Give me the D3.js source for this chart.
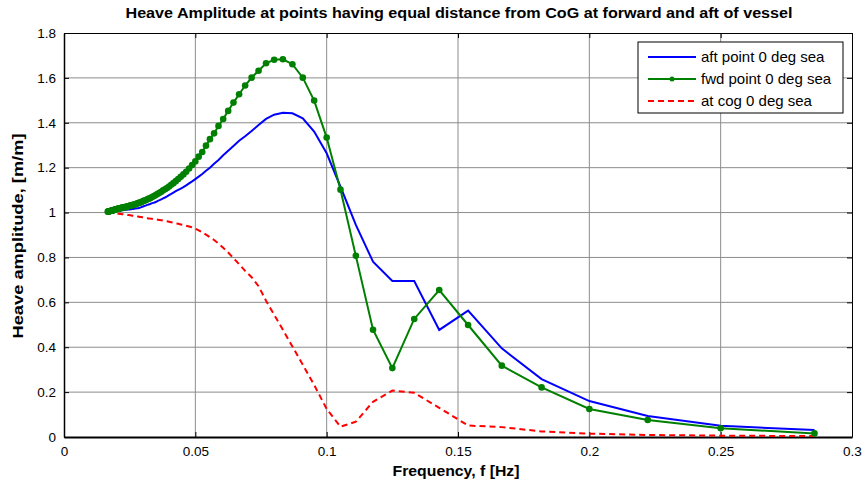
<!DOCTYPE html>
<html>
<head>
<meta charset="utf-8">
<script src="https://cdn.jsdelivr.net/npm/d3@7"></script>
<style>
  body { margin: 0; background: #fff; }
  text { font-family: "Liberation Sans", Arial, sans-serif; }
</style>
</head>
<body>
<div id="chart"></div>
<script>
// wave periods [s]; frequency = 1 / period
var periods = [60, 59.5, 59, 58.5, 58, 57.5, 57, 56.5, 56, 55.5, 55, 54.5, 54, 53.5, 53, 52.5, 52, 51.5, 51, 50.5,
               50, 49.5, 49, 48.5, 48, 47.5, 47, 46.5, 46, 45.5, 45, 44.5, 44, 43.5, 43, 42.5, 42, 41.5, 41, 40.5,
               40, 39.5, 39, 38.5, 38, 37.5, 37, 36.5, 36, 35.5, 35, 34.5, 34, 33.5, 33, 32.5, 32, 31.5, 31, 30.5,
               30, 29.5, 29, 28.5, 28, 27.5, 27, 26.5, 26, 25.5, 25, 24.5, 24, 23.5, 23, 22.5, 22, 21.5, 21, 20.5,
               20, 19.5, 19, 18.5, 18, 17.5, 17, 16.5, 16, 15.5, 15, 14.5, 14, 13.5, 13, 12.5, 12, 11.5, 11, 10.5,
               10, 9.5, 9, 8.5, 8, 7.5, 7, 6.5, 6, 5.5, 5, 4.5, 4, 3.5];

var aftPoint = [1.002, 1.002, 1.002, 1.002, 1.002, 1.003, 1.003, 1.003, 1.003, 1.003, 1.003, 1.004, 1.004, 1.004, 1.005, 1.005, 1.005, 1.006, 1.006, 1.006,
                1.006, 1.007, 1.007, 1.007, 1.008, 1.008, 1.008, 1.009, 1.009, 1.010, 1.010, 1.010, 1.011, 1.011, 1.012, 1.012, 1.013, 1.013, 1.014, 1.014,
                1.014, 1.015, 1.015, 1.016, 1.016, 1.017, 1.018, 1.018, 1.019, 1.019, 1.020, 1.022, 1.024, 1.026, 1.028, 1.030, 1.032, 1.034, 1.036, 1.038,
                1.041, 1.043, 1.045, 1.048, 1.052, 1.055, 1.059, 1.063, 1.067, 1.072, 1.078, 1.083, 1.089, 1.095, 1.101, 1.107, 1.113, 1.121, 1.130, 1.139,
                1.149, 1.160, 1.172, 1.186, 1.200, 1.217, 1.234, 1.255, 1.275, 1.297, 1.320, 1.340, 1.363, 1.390, 1.417, 1.436, 1.445, 1.442, 1.420, 1.361,
                1.264, 1.115, 0.945, 0.781, 0.695, 0.695, 0.477, 0.563, 0.395, 0.258, 0.160, 0.094, 0.050, 0.031];

var fwdPoint = [1.004, 1.005, 1.005, 1.006, 1.006, 1.006, 1.007, 1.007, 1.008, 1.008, 1.009, 1.009, 1.009, 1.010, 1.011, 1.011, 1.012, 1.013, 1.014, 1.015,
                1.016, 1.016, 1.017, 1.017, 1.018, 1.018, 1.019, 1.020, 1.020, 1.021, 1.022, 1.022, 1.023, 1.024, 1.024, 1.025, 1.026, 1.027, 1.028, 1.029,
                1.030, 1.031, 1.032, 1.033, 1.034, 1.035, 1.037, 1.038, 1.040, 1.042, 1.043, 1.045, 1.047, 1.049, 1.052, 1.054, 1.056, 1.059, 1.062, 1.064,
                1.068, 1.071, 1.075, 1.079, 1.084, 1.088, 1.093, 1.099, 1.104, 1.109, 1.116, 1.124, 1.131, 1.140, 1.149, 1.159, 1.170, 1.182, 1.196, 1.212,
                1.228, 1.249, 1.270, 1.298, 1.327, 1.353, 1.386, 1.417, 1.453, 1.490, 1.527, 1.566, 1.601, 1.632, 1.665, 1.681, 1.683, 1.661, 1.601, 1.499,
                1.334, 1.102, 0.807, 0.478, 0.307, 0.526, 0.655, 0.499, 0.318, 0.221, 0.125, 0.076, 0.039, 0.016];

var atCog = [1.000, 1.000, 1.000, 1.000, 0.999, 0.999, 0.999, 0.999, 0.999, 0.999, 0.999, 0.998, 0.998, 0.998, 0.998, 0.998, 0.997, 0.997, 0.997, 0.997,
             0.996, 0.996, 0.996, 0.995, 0.995, 0.995, 0.994, 0.994, 0.994, 0.993, 0.993, 0.993, 0.992, 0.992, 0.991, 0.991, 0.990, 0.990, 0.989, 0.989,
             0.988, 0.988, 0.987, 0.986, 0.986, 0.985, 0.984, 0.984, 0.983, 0.982, 0.981, 0.980, 0.980, 0.979, 0.978, 0.977, 0.976, 0.975, 0.974, 0.973,
             0.972, 0.971, 0.970, 0.969, 0.968, 0.967, 0.966, 0.964, 0.963, 0.961, 0.959, 0.957, 0.955, 0.952, 0.950, 0.947, 0.944, 0.941, 0.938, 0.934,
             0.928, 0.921, 0.912, 0.902, 0.890, 0.878, 0.862, 0.843, 0.822, 0.797, 0.770, 0.740, 0.712, 0.672, 0.607, 0.545, 0.478, 0.403, 0.322, 0.232,
             0.125, 0.046, 0.068, 0.157, 0.207, 0.197, 0.130, 0.051, 0.044, 0.025, 0.015, 0.009, 0.006, 0.004];

var xTicks = [0, 0.05, 0.1, 0.15, 0.2, 0.25, 0.3];
var yTicks = [0, 0.2, 0.4, 0.6, 0.8, 1, 1.2, 1.4, 1.6, 1.8];
var seriesNames = ["aft point 0 deg sea", "fwd point 0 deg sea", "at cog 0 deg sea"];

var W = 863, H = 483;
var margin = {top: 33, right: 11, bottom: 46, left: 64};

var svg = d3.select("#chart").append("svg")
    .attr("width", W)
    .attr("height", H);

var x = d3.scaleLinear().domain([0, 0.3]).range([margin.left, W - margin.right]);
var y = d3.scaleLinear().domain([0, 1.8]).range([H - margin.bottom, margin.top]);

// grid
svg.append("g").selectAll("line.gx")
    .data(xTicks.slice(1, -1))
  .enter().append("line")
    .attr("x1", function(d) { return x(d); }).attr("x2", function(d) { return x(d); })
    .attr("y1", y(0)).attr("y2", y(1.8))
    .attr("stroke", "#8c8c8c").attr("stroke-width", 1);
svg.append("g").selectAll("line.gy")
    .data(yTicks.slice(1, -1))
  .enter().append("line")
    .attr("x1", x(0)).attr("x2", x(0.3))
    .attr("y1", function(d) { return y(d); }).attr("y2", function(d) { return y(d); })
    .attr("stroke", "#8c8c8c").attr("stroke-width", 1);

// axes, ticks pointing inward
var xaxis = d3.axisBottom(x).tickValues(xTicks).tickSizeInner(-5).tickSizeOuter(0).tickPadding(9)
    .tickFormat(function(d) { return String(d); });
var yaxis = d3.axisLeft(y).tickValues(yTicks).tickSizeInner(-5).tickSizeOuter(0).tickPadding(8)
    .tickFormat(function(d) { return String(d); });

svg.append("g")
    .attr("transform", "translate(0," + y(0) + ")")
    .call(xaxis)
    .call(function(g) { g.select(".domain").attr("stroke-width", 2); })
    .selectAll("text").style("font-size", "13.5px").attr("fill", "#000");

svg.append("g")
    .attr("transform", "translate(" + x(0) + ",0)")
    .call(yaxis)
    .call(function(g) { g.select(".domain").attr("stroke-width", 1.5); })
    .selectAll("text").style("font-size", "13.5px").attr("fill", "#000");

// top and right ticks
svg.append("g")
    .attr("transform", "translate(0," + y(1.8) + ")")
    .call(d3.axisTop(x).tickValues(xTicks).tickSizeInner(-5).tickSizeOuter(0).tickFormat(""));
svg.append("g")
    .attr("transform", "translate(" + x(0.3) + ",0)")
    .call(d3.axisRight(y).tickValues(yTicks).tickSizeInner(-5).tickSizeOuter(0).tickFormat(""));

// series
var freq = periods.map(function(t) { return 1 / t; });
function pts(vals) { return vals.map(function(v, i) { return [freq[i], v]; }); }

var line = d3.line()
    .x(function(d) { return x(d[0]); })
    .y(function(d) { return y(d[1]); });

svg.append("path").datum(pts(atCog))
    .attr("d", line).attr("fill", "none")
    .attr("stroke", "#ff0000").attr("stroke-width", 2).attr("stroke-dasharray", "6,4");

svg.append("path").datum(pts(aftPoint))
    .attr("d", line).attr("fill", "none")
    .attr("stroke", "#0000ff").attr("stroke-width", 2);

svg.append("path").datum(pts(fwdPoint))
    .attr("d", line).attr("fill", "none")
    .attr("stroke", "#008000").attr("stroke-width", 2);

svg.append("g").selectAll("circle")
    .data(pts(fwdPoint))
  .enter().append("circle")
    .attr("cx", function(d) { return x(d[0]); })
    .attr("cy", function(d) { return y(d[1]); })
    .attr("r", 3.3)
    .attr("fill", "#008000");

// titles
svg.append("text")
    .attr("x", 459).attr("y", 18)
    .attr("text-anchor", "middle")
    .attr("textLength", 667).attr("lengthAdjust", "spacingAndGlyphs")
    .style("font-size", "14px").style("font-weight", "bold")
    .text("Heave Amplitude at points having equal distance from CoG at forward and aft of vessel");

svg.append("text")
    .attr("x", 456).attr("y", 476)
    .attr("text-anchor", "middle")
    .attr("textLength", 127).attr("lengthAdjust", "spacingAndGlyphs")
    .style("font-size", "14.5px").style("font-weight", "bold")
    .text("Frequency, f [Hz]");

svg.append("text")
    .attr("transform", "translate(23," + 236 + ") rotate(-90)")
    .attr("text-anchor", "middle")
    .attr("textLength", 205).attr("lengthAdjust", "spacingAndGlyphs")
    .style("font-size", "14.5px").style("font-weight", "bold")
    .text("Heave amplitude, [m/m]");

// legend
var lg = svg.append("g");
lg.append("rect")
    .attr("x", 638).attr("y", 42).attr("width", 205).attr("height", 71)
    .attr("fill", "#fff").attr("stroke", "#000").attr("stroke-width", 1);

var legendStyle = [
  {color: "#0000ff", dash: null, marker: false},
  {color: "#008000", dash: null, marker: true},
  {color: "#ff0000", dash: "6,4", marker: false}
];
var rowY = [57, 79, 101];

seriesNames.forEach(function(name, i) {
  var s = legendStyle[i];
  lg.append("line")
      .attr("x1", 648).attr("x2", 696)
      .attr("y1", rowY[i]).attr("y2", rowY[i])
      .attr("stroke", s.color).attr("stroke-width", 2)
      .attr("stroke-dasharray", s.dash);
  if (s.marker) {
    lg.append("circle").attr("cx", 672).attr("cy", rowY[i]).attr("r", 2.5).attr("fill", s.color);
  }
  lg.append("text")
      .attr("x", 701).attr("y", rowY[i] + 5)
      .style("font-size", "15px")
      .text(name);
});
</script>
</body>
</html>
